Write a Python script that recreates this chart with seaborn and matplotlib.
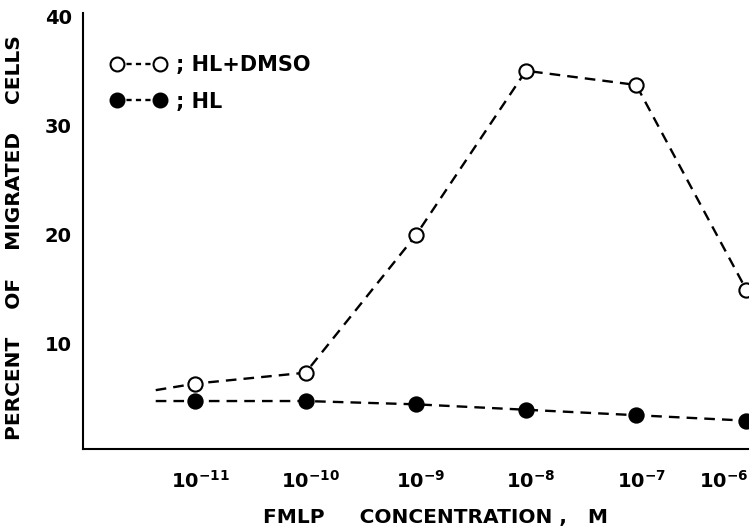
import matplotlib
matplotlib.use("Agg")
import matplotlib.pyplot as plt
import matplotlib.transforms as mtransforms
import seaborn as sns
import pandas as pd
from matplotlib.lines import Line2D

# Data
concentrations = [1e-11, 1e-10, 1e-9, 1e-8, 1e-7, 1e-6]
tick_labels = [r"$\mathbf{10^{-11}}$", r"$\mathbf{10^{-10}}$", r"$\mathbf{10^{-9}}$",
               r"$\mathbf{10^{-8}}$", r"$\mathbf{10^{-7}}$", r"$\mathbf{10^{-6}}$"]
line_start_conc = 10 ** -11.36
hl_dmso = [6.3, 7.3, 19.9, 35.0, 33.7, 14.9]
hl_dmso_start = 5.7
hl = [4.7, 4.7, 4.4, 3.9, 3.4, 2.9]
hl_start = 4.7
y_ticks = [10, 20, 30, 40]

sns.set_theme(style="white")
plt.rcParams['font.family'] = ['DejaVu Sans']
plt.rcParams['font.weight'] = 'bold'
plt.rcParams['mathtext.fontset'] = 'dejavusans'
plt.rcParams['text.color'] = 'black'
plt.rcParams['axes.labelcolor'] = 'black'
plt.rcParams['xtick.color'] = 'black'
plt.rcParams['ytick.color'] = 'black'

fig = plt.figure(figsize=(7.55, 5.3), dpi=100)
ax = fig.add_axes([83/755, 1 - 449/530, (748 - 83)/755, (449 - 13)/530])

df_dmso = pd.DataFrame({"conc": [line_start_conc] + concentrations, "pct": [hl_dmso_start] + hl_dmso})
df_hl = pd.DataFrame({"conc": [line_start_conc] + concentrations, "pct": [hl_start] + hl})
pts_dmso = pd.DataFrame({"conc": concentrations, "pct": hl_dmso})
pts_hl = pd.DataFrame({"conc": concentrations, "pct": hl})

dash = (4.5, 3.0)
for d in (df_dmso, df_hl):
    sns.lineplot(data=d, x="conc", y="pct", ax=ax, color="black", lw=1.7,
                 sort=False, estimator=None, linestyle=(0, dash))

sns.scatterplot(data=pts_dmso, x="conc", y="pct", ax=ax, marker="o", s=105,
                facecolor="white", edgecolor="black", linewidth=1.5, zorder=5)
sns.scatterplot(data=pts_hl, x="conc", y="pct", ax=ax, marker="o", s=105,
                facecolor="black", edgecolor="black", linewidth=1.5, zorder=5)

ax.set_xscale("log")
ax.set_xlim(10 ** -12.02, 10 ** -5.985)
ax.set_ylim(0.3, 40.3)
ax.set_xticks(concentrations)
ax.set_xticklabels(tick_labels)
ax.minorticks_off()
ax.set_yticks(y_ticks)
ax.set_yticklabels([str(v) for v in y_ticks])
ax.tick_params(axis="x", direction="in", length=3, width=2, pad=15, labelsize=14)
ax.tick_params(axis="y", direction="in", length=3, width=2, pad=8, labelsize=14)
for lab in ax.get_yticklabels() + ax.get_xticklabels():
    lab.set_fontweight("bold")
    lab.set_color("black")

# shift x tick labels slightly right (as in reference), last one right-aligned
xlabels = ax.get_xticklabels()
for lab in xlabels[:-1]:
    lab.set_transform(lab.get_transform() + mtransforms.ScaledTranslation(5/100, 0, fig.dpi_scale_trans))
xlabels[-1].set_horizontalalignment("right")
xlabels[-1].set_transform(xlabels[-1].get_transform() + mtransforms.ScaledTranslation(2/100, 0, fig.dpi_scale_trans))

for s in ["top", "right"]:
    ax.spines[s].set_visible(False)
for s in ["left", "bottom"]:
    ax.spines[s].set_color("black")
    ax.spines[s].set_linewidth(1.5)

ax.set_xlabel("FMLP     CONCENTRATION ,   M", fontsize=14.5, fontweight="bold", color="black")
ax.set_ylabel("PERCENT    OF    MIGRATED    CELLS", fontsize=14.5, fontweight="bold", color="black")
ax.yaxis.set_label_coords(-0.088, 0.485)
ax.xaxis.set_label_coords(0.53, -0.178)
ax.xaxis.label.set_verticalalignment("bottom")

handles = [
    Line2D([], [], color="black", lw=1.7, linestyle=(0, (2.2, 1.8)), marker="o", markersize=10,
           markerfacecolor="white", markeredgecolor="black", markeredgewidth=1.5),
    Line2D([], [], color="black", lw=1.7, linestyle=(0, (2.2, 1.8)), marker="o", markersize=10,
           markerfacecolor="black", markeredgecolor="black", markeredgewidth=1.5),
]
leg = ax.legend(handles, ["; HL+DMSO", "; HL"], loc="upper left", bbox_to_anchor=(0.013, 0.947),
                frameon=False, numpoints=2, handlelength=2.67, handletextpad=0.5,
                labelspacing=0.8, prop={"size": 15, "weight": "bold"})
for t in leg.get_texts():
    t.set_color("black")

fig.savefig("out.png", dpi=100)
